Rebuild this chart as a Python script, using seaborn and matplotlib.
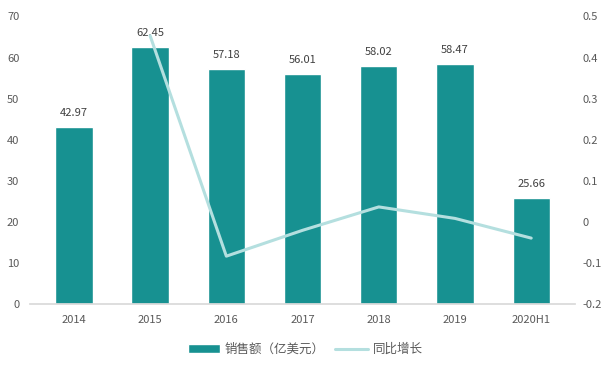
import matplotlib
matplotlib.use("Agg")
import matplotlib.pyplot as plt
import seaborn as sns
import pandas as pd

categories = ["2014", "2015", "2016", "2017", "2018", "2019", "2020H1"]
sales = [42.97, 62.45, 57.18, 56.01, 58.02, 58.47, 25.66]
growth = [None, 0.453, -0.084, -0.021, 0.036, 0.008, -0.040]
bar_label = "销售额（亿美元）"
line_label = "同比增长"

sns.set_theme(style="white")
plt.rcParams['font.family'] = ['Noto Sans CJK SC', 'DejaVu Sans']

bar_color = "#179191"
line_color = "#b4dfdf"
text_color = "#595959"

df = pd.DataFrame({"cat": categories, "sales": sales, "growth": growth})

fig = plt.figure(figsize=(6.1, 3.66), dpi=100)
ax = fig.add_axes([0.05, 0.17, 0.892, 0.785])
sns.barplot(data=df, x="cat", y="sales", color=bar_color, width=0.49,
            saturation=1, ax=ax, label=bar_label)
ax.set_ylim(0, 70)
ax.set_yticks(range(0, 71, 10))
ax.set_xlabel("")
ax.set_ylabel("")
for i, v in enumerate(sales):
    ax.text(i, v + 2.2, f"{v:.2f}", ha="center", va="bottom", fontsize=8, color="#404040")
for s in ["left", "right", "top"]:
    ax.spines[s].set_visible(False)
ax.spines["bottom"].set_color("#d9d9d9")
ax.tick_params(axis="both", length=0, labelsize=8, colors=text_color)
ax.tick_params(axis="x", pad=8)
ax.tick_params(axis="y", pad=8)

ax2 = ax.twinx()
sns.lineplot(data=df.dropna(), x="cat", y="growth", color=line_color, linewidth=2.2,
             ax=ax2, label=line_label, sort=False)
ax2.set_ylim(-0.2, 0.5)
ax2.set_yticks([-0.2, -0.1, 0, 0.1, 0.2, 0.3, 0.4, 0.5])
ax2.set_yticklabels(["-0.2", "-0.1", "0", "0.1", "0.2", "0.3", "0.4", "0.5"])
ax2.set_ylabel("")
ax2.set_xlabel("")
for s in ["left", "right", "top", "bottom"]:
    ax2.spines[s].set_visible(False)
ax2.tick_params(axis="y", length=0, labelsize=8, colors=text_color, pad=6)
ax2.set_xlim(ax.get_xlim())
if ax2.get_legend():
    ax2.get_legend().remove()
if ax.get_legend():
    ax.get_legend().remove()

h1, l1 = ax.get_legend_handles_labels()
h2, l2 = ax2.get_legend_handles_labels()
fig.legend(h1 + h2, l1 + l2, loc="center", bbox_to_anchor=(0.5, 0.045), ncol=2,
           frameon=False, fontsize=9, labelcolor=text_color, handlelength=2.6,
           columnspacing=0.8, handletextpad=0.4)

fig.savefig("out.png", dpi=100)
